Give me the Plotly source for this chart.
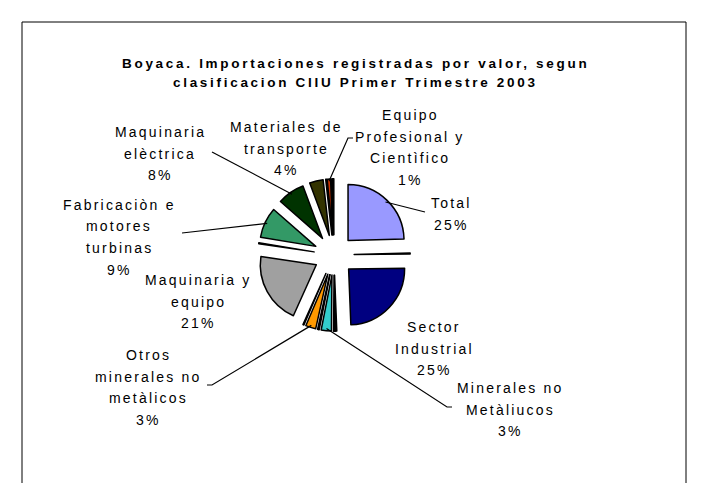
import math
import plotly.graph_objects as go

W, H = 707, 483
PAGE_OFF = 8  # default body margin of the written page

# ---------------- data ----------------
categories = [
    "Total", "Sin rótulo A", "Sector Industrial", "Sin rótulo B", "Sin rótulo C",
    "Minerales no Metàliucos", "Sin rótulo D", "Sin rótulo E",
    "Otros minerales no metàlicos", "Sin rótulo F", "Maquinaria y equipo",
    "Sin rótulo G", "Fabricaciòn e motores turbinas", "Maquinaria elèctrica",
    "Materiales de transporte", "Sin rótulo H", "Equipo Profesional y Científico",
    "Sin rótulo I", "Sin rótulo J",
]
values = [25, 0.3, 25, 0.4, 0.4, 3, 0.2, 0.2, 3, 0.3, 21, 0.3, 9, 8, 4, 0.2, 1, 0.3, 0.3]
colors = [
    "#9999FF", "#000000", "#000080", "#000000", "#000000", "#33CCCC", "#000000",
    "#000000", "#FF9900", "#000000", "#A0A0A0", "#000000", "#339966", "#003300",
    "#333300", "#000000", "#CC3300", "#000000", "#000000",
]

label_lines = {
    "Total": ["Total"],
    "Sector Industrial": ["Sector", "Industrial"],
    "Minerales no Metàliucos": ["Minerales no", "Metàliucos"],
    "Otros minerales no metàlicos": ["Otros", "minerales no", "metàlicos"],
    "Maquinaria y equipo": ["Maquinaria y", "equipo"],
    "Fabricaciòn e motores turbinas": ["Fabricaciòn e", "motores", "turbinas"],
    "Maquinaria elèctrica": ["Maquinaria", "elèctrica"],
    "Materiales de transporte": ["Materiales de", "transporte"],
    "Equipo Profesional y Científico": ["Equipo", "Profesional y", "Cientìfico"],
}

title_lines = [
    "Boyaca. Importaciones registradas por valor, segun",
    "clasificacion CIIU Primer Trimestre 2003",
]

# ---------------- layout / style ----------------
CX, CY, R, PULL = 334, 255, 56, 0.36
LINE_H = 21.5
label_pos = {
    "Total": dict(x=451, y=203, leader=[(425, 212)]),
    "Sector Industrial": dict(x=434, y=327),
    "Minerales no Metàliucos": dict(x=510, y=388, leader=[(452, 407), (447, 407)]),
    "Otros minerales no metàlicos": dict(x=148, y=355, leader=[(207, 385), (212, 385)]),
    "Maquinaria y equipo": dict(x=198, y=280),
    "Fabricaciòn e motores turbinas": dict(x=119, y=205, leader=[(182, 233)]),
    "Maquinaria elèctrica": dict(x=160, y=132, leader=[(212, 152)]),
    "Materiales de transporte": dict(x=286, y=127),
    "Equipo Profesional y Científico": dict(x=410, y=115, leader=[(353, 138), (348, 138)]),
}


def px(x):
    return (x - PAGE_OFF) / W


def py(y):
    return 1 - (y - PAGE_OFF) / H


fig = go.Figure()
half = R * (1 + PULL)
fig.add_trace(go.Pie(
    labels=categories, values=values, sort=False, direction="clockwise", rotation=0,
    pull=PULL, textinfo="none", hoverinfo="label+percent", showlegend=False,
    marker=dict(colors=colors, line=dict(color="black", width=1.5)),
    domain=dict(x=[px(CX - half), px(CX + half)], y=[py(CY + half), py(CY - half)]),
))

total = sum(values)
annotations = []
shapes = []

LS_LABEL = "letter-spacing:2.2px"
LS_TITLE = "letter-spacing:2.7px"

for i, ln in enumerate(title_lines):
    annotations.append(dict(
        x=px(355), y=py(63 + 20 * i), xref="paper", yref="paper", showarrow=False,
        xanchor="center", yanchor="middle",
        text=f'<span style="{LS_TITLE}"><b>{ln}</b></span>',
        font=dict(family="Liberation Sans, Arial", size=13.5, color="black"),
    ))

cum = 0.0
mids = {}
for c, v in zip(categories, values):
    mids[c] = (cum + v / 2) / total * 360
    cum += v

for c, lines in label_lines.items():
    v = values[categories.index(c)]
    pct = f"{round(v / total * 100)}%"
    pos = label_pos[c]
    for j, ln in enumerate(lines + [pct]):
        annotations.append(dict(
            x=px(pos["x"]), y=py(pos["y"] + LINE_H * j), xref="paper", yref="paper",
            showarrow=False, xanchor="center", yanchor="middle",
            text=f'<span style="{LS_LABEL}">{ln}</span>',
            font=dict(family="Liberation Sans, Arial", size=14, color="black"),
        ))
    if "leader" in pos:
        th = math.radians(mids[c])
        dist = R * PULL + R * 0.96
        ex = CX + dist * math.sin(th)
        ey = CY - dist * math.cos(th)
        pts = pos["leader"] + [(ex, ey)]
        path = "M " + " L ".join(f"{px(a):.5f},{py(b):.5f}" for a, b in pts)
        shapes.append(dict(type="path", xref="paper", yref="paper", path=path,
                           line=dict(color="black", width=1.2)))

# chart frame
shapes.append(dict(type="rect", xref="paper", yref="paper",
                   x0=px(22), x1=px(686), y0=py(22), y1=py(500),
                   line=dict(color="black", width=1)))

fig.update_layout(
    width=W, height=H, autosize=False,
    margin=dict(l=0, r=0, t=0, b=0),
    paper_bgcolor="white", plot_bgcolor="white",
    annotations=annotations, shapes=shapes,
)

fig.write_html("out.html")
